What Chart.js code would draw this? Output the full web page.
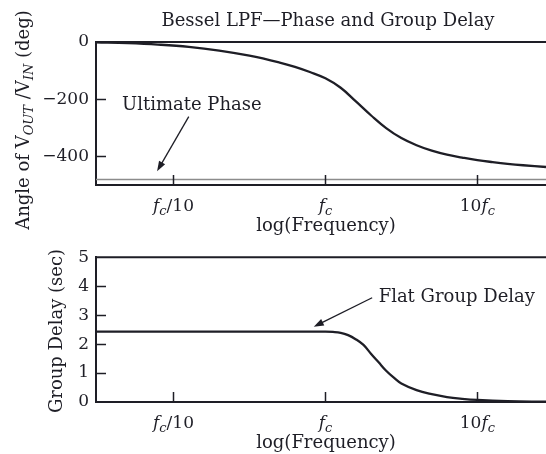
<!DOCTYPE html>
<html>
<head>
<meta charset="utf-8">
<script src="https://cdn.jsdelivr.net/npm/chart.js@4.4.1/dist/chart.umd.min.js"></script>
<style>
  html, body { margin: 0; padding: 0; background: #fff; }
  #wrap { position: relative; width: 546px; height: 454px; }
  canvas { position: absolute; left: 0; }
  #phaseChart { top: 0; }
  #delayChart { top: 240px; }
</style>
</head>
<body>
<div id="wrap">
  <canvas id="phaseChart" width="546" height="240"></canvas>
  <canvas id="delayChart" width="546" height="214"></canvas>
</div>
<script>
/* ── DATA (frequency in multiples of fc) ── */
const phaseFreq = [0.0309, 0.05, 0.079, 0.126, 0.2, 0.316, 0.5, 0.63, 0.79, 1, 1.26, 1.58, 2, 2.51, 3.16, 3.98, 5.01, 6.31, 7.94, 10, 12.6, 15.8, 20, 28.3];
const phaseDeg  = [-1, -4, -9, -17, -30, -48, -72, -87, -105, -127, -160, -207, -257, -301, -336, -361, -380, -394, -404, -413, -420, -426, -431, -437];
const ultimatePhase = -481;

const delayFreq = [0.0309, 0.1, 0.5, 1, 1.12, 1.26, 1.41, 1.58, 1.78, 2, 2.24, 2.51, 2.82, 3.16, 3.98, 5.01, 6.31, 7.94, 10, 15.8, 28.3];
const delaySec  = [2.43, 2.43, 2.43, 2.43, 2.42, 2.39, 2.31, 2.17, 1.97, 1.66, 1.37, 1.08, 0.84, 0.64, 0.41, 0.27, 0.17, 0.11, 0.07, 0.03, 0.01];

const freqTicks = [0.1, 1, 10];
// label runs: r = roman, i = italic, s = italic subscript
const freqTickLabels = [
  [['f', 'i'], ['c', 's'], ['/10', 'r']],
  [['f', 'i'], ['c', 's']],
  [['10', 'r'], ['f', 'i'], ['c', 's']],
];
const phaseTicks = [0, -200, -400];
const delayTicks = [0, 1, 2, 3, 4, 5];

const FREQ_MIN = 0.0309, FREQ_MAX = 28.3;

/* ── STYLE ── */
const FONT = '"DejaVu Serif", "Liberation Serif", serif';
const INK = '#1e1e26';

function fontStr(style, size) { return style + ' ' + size + 'px ' + FONT; }

function drawRuns(ctx, runs, x, y, align, size) {
  size = size || 18;
  const sub = Math.round(size * 0.74);
  const parts = runs.map(([t, k]) => {
    const f = k === 'r' ? fontStr('normal', size) : k === 'i' ? fontStr('italic', size) : fontStr('italic', sub);
    ctx.font = f;
    return { t, f, w: ctx.measureText(t).width, dy: k === 's' ? 4 : 0 };
  });
  const total = parts.reduce((a, p) => a + p.w, 0);
  let cx = align === 'center' ? x - total / 2 : x;
  ctx.textAlign = 'left';
  ctx.textBaseline = 'alphabetic';
  parts.forEach(p => { ctx.font = p.f; ctx.fillText(p.t, cx, y + p.dy); cx += p.w; });
}

function arrow(ctx, x0, y0, x1, y1) {
  const a = Math.atan2(y1 - y0, x1 - x0);
  const L = 10, W = 3.5;
  ctx.lineWidth = 1.3;
  ctx.beginPath();
  ctx.moveTo(x0, y0);
  ctx.lineTo(x1 - Math.cos(a) * L * 0.8, y1 - Math.sin(a) * L * 0.8);
  ctx.stroke();
  ctx.beginPath();
  ctx.moveTo(x1, y1);
  ctx.lineTo(x1 - Math.cos(a) * L - Math.sin(a) * W, y1 - Math.sin(a) * L + Math.cos(a) * W);
  ctx.lineTo(x1 - Math.cos(a) * L + Math.sin(a) * W, y1 - Math.sin(a) * L - Math.cos(a) * W);
  ctx.closePath();
  ctx.fill();
}

/* ── FRAME PLUGIN: top border, inward ticks, custom labels ── */
function framePlugin(o) {
  return {
    id: 'frame',
    afterDraw(chart) {
      const { ctx, chartArea: ca, scales: { x, y } } = chart;
      ctx.save();
      ctx.strokeStyle = INK;
      ctx.fillStyle = INK;

      // top border
      ctx.lineWidth = 2;
      ctx.beginPath();
      ctx.moveTo(ca.left - 1, ca.top);
      ctx.lineTo(ca.right, ca.top);
      ctx.stroke();

      // inward tick marks
      ctx.lineWidth = 1.5;
      freqTicks.forEach(v => {
        const px = Math.round(x.getPixelForValue(v)) + 0.5;
        ctx.beginPath();
        ctx.moveTo(px, ca.bottom);
        ctx.lineTo(px, ca.bottom - 10);
        ctx.stroke();
      });
      y.ticks.forEach(t => {
        const py = Math.round(y.getPixelForValue(t.value)) + 0.5;
        if (py <= ca.top + 2 || py >= ca.bottom - 2) return;
        ctx.beginPath();
        ctx.moveTo(ca.left, py);
        ctx.lineTo(ca.left + 10, py);
        ctx.stroke();
      });

      // x tick labels + x title
      freqTicks.forEach((v, i) => {
        drawRuns(ctx, freqTickLabels[i], x.getPixelForValue(v), ca.bottom + 26, 'center', 17);
      });
      drawRuns(ctx, [['log(Frequency)', 'r']], o.xTitleX, ca.bottom + 46, 'center');

      // y title (rotated)
      ctx.save();
      ctx.translate(o.yTitleX, o.yTitleY);
      ctx.rotate(-Math.PI / 2);
      drawRuns(ctx, o.yTitle, 0, 0, 'center');
      ctx.restore();

      // chart title
      if (o.title) drawRuns(ctx, [[o.title, 'r']], o.titleX, o.titleY, 'center');

      // annotations
      (o.notes || []).forEach(n => {
        drawRuns(ctx, [[n.text, 'r']], x.getPixelForValue(n.tx), y.getPixelForValue(n.ty), 'left');
        arrow(ctx, x.getPixelForValue(n.ax0), y.getPixelForValue(n.ay0),
                   x.getPixelForValue(n.ax1), y.getPixelForValue(n.ay1));
      });
      ctx.restore();
    },
  };
}

function xScale(height) {
  return {
    type: 'logarithmic', min: FREQ_MIN, max: FREQ_MAX,
    afterBuildTicks: s => { s.ticks = freqTicks.map(v => ({ value: v })); },
    afterFit: s => { s.height = height; },
    ticks: { display: false },
    grid: { display: false, drawTicks: false },
    border: { display: true, color: INK, width: 2 },
  };
}

function yScale(min, max, ticks) {
  return {
    type: 'linear', min, max,
    afterBuildTicks: s => { s.ticks = ticks.map(v => ({ value: v })); },
    afterFit: s => { s.width = 96; },
    ticks: {
      color: INK, padding: 7, font: { family: FONT, size: 17 },
      callback: v => (v < 0 ? '\u2212' + (-v) : String(v)),
    },
    grid: { display: false, drawTicks: false },
    border: { display: true, color: INK, width: 2 },
  };
}

const baseOpts = {
  responsive: false, animation: false, devicePixelRatio: 1,
  plugins: { legend: { display: false }, tooltip: { enabled: false } },
  elements: { point: { radius: 0 }, line: { tension: 0.4 } },
};

/* ── PHASE ── */
new Chart(document.getElementById('phaseChart'), {
  type: 'line',
  data: {
    datasets: [
      {
        data: phaseFreq.map((f, i) => ({ x: f, y: phaseDeg[i] })),
        borderColor: INK, borderWidth: 2.3,
      },
      {
        data: [{ x: FREQ_MIN, y: ultimatePhase }, { x: FREQ_MAX, y: ultimatePhase }],
        borderColor: '#8c8c8c', borderWidth: 1.6, tension: 0,
      },
    ],
  },
  options: {
    ...baseOpts,
    layout: { padding: { top: 42, left: 0, right: 0, bottom: 0 } },
    scales: { x: xScale(55), y: yScale(-500, 0, phaseTicks) },
  },
  plugins: [framePlugin({
    title: 'Bessel LPF\u2014Phase and Group Delay', titleX: 328, titleY: 26,
    xTitleX: 326,
    yTitle: [['Angle of V', 'r'], ['OUT', 's'], [' /V', 'r'], ['IN', 's'], [' (deg)', 'r']],
    yTitleX: 29, yTitleY: 120,
    notes: [{ text: 'Ultimate Phase', tx: 0.0458, ty: -238, ax0: 0.126, ay0: -261, ax1: 0.078, ay1: -452 }],
  })],
});

/* ── GROUP DELAY ── */
new Chart(document.getElementById('delayChart'), {
  type: 'line',
  data: {
    datasets: [{
      data: delayFreq.map((f, i) => ({ x: f, y: delaySec[i] })),
      borderColor: INK, borderWidth: 2.3,
    }],
  },
  options: {
    ...baseOpts,
    layout: { padding: { top: 11, left: 0, right: 0, bottom: 0 } },
    scales: { x: xScale(52), y: yScale(0, 5, delayTicks) },
  },
  plugins: [framePlugin({
    xTitleX: 326,
    yTitle: [['Group Delay (sec)', 'r']],
    yTitleX: 62, yTitleY: 91,
    notes: [{ text: 'Flat Group Delay', tx: 2.24, ty: 3.45, ax0: 2.03, ay0: 3.6, ax1: 0.838, ay1: 2.6 }],
  })],
});
</script>
</body>
</html>
